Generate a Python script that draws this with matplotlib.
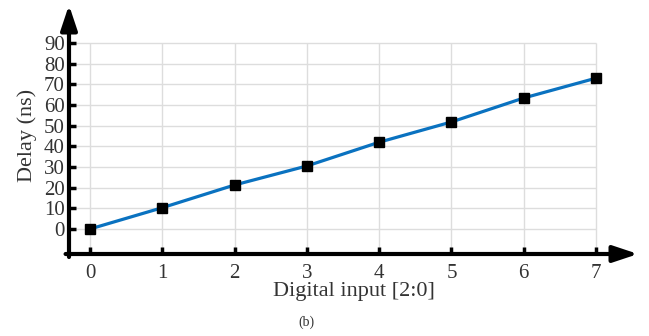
import matplotlib
matplotlib.use('Agg')
import matplotlib.pyplot as plt
import numpy as np

plt.rcParams.update({'font.family': 'Liberation Serif', 'font.size': 15})

codes = [0, 1, 2, 3, 4, 5, 6, 7]
delay = [0, 10.3, 21.3, 30.5, 42.0, 51.8, 63.4, 73.0]
yticks = [0, 10, 20, 30, 40, 50, 60, 70, 80, 90]

text_col = '#333333'
fig = plt.figure(figsize=(6.49, 3.36), dpi=100)
ax = fig.add_axes([69 / 649, 1 - 254 / 336, (638 - 69) / 649, (254 - 5) / 336])
ax.set_xlim(-0.29, 7.58)
ax.set_ylim(-12.1, 108.4)

# light grid, stops at the last tick
ax.hlines(yticks, -0.29, 7, color='#dddddd', lw=1, zorder=0)
ax.vlines(codes, -12.1, 90, color='#dddddd', lw=1, zorder=0)

ax.plot(codes, delay, color='#0a72c0', lw=2.3, marker='s', ms=6.5,
        mfc='black', mec='black', zorder=3)

for s in ax.spines.values():
    s.set_visible(False)

# axis arrows
arw = dict(arrowstyle='-|>,head_length=1.5,head_width=0.5', lw=3, color='black',
           mutation_scale=10, shrinkA=0, shrinkB=0)
ax.annotate('', xy=(1.0, 0), xytext=(-0.006, 0), xycoords='axes fraction',
            arrowprops=arw, annotation_clip=False)
ax.annotate('', xy=(0, 1.0), xytext=(0, -0.012), xycoords='axes fraction',
            arrowprops=arw, annotation_clip=False)

ax.set_xticks(codes)
ax.set_yticks(yticks)
ax.tick_params(direction='in', length=5, width=2.5, color='black',
               labelcolor=text_col, labelsize=15)
ax.tick_params(axis='x', pad=7)
ax.tick_params(axis='y', pad=3)

ax.text(0.5, -0.15, 'Digital input [2:0]', transform=ax.transAxes,
        ha='center', va='center', fontsize=16, color=text_col)
ax.text(-0.074, 45.5, 'Delay (ns)', transform=ax.get_yaxis_transform(),
        ha='center', va='center', rotation=90, fontsize=16, color=text_col)
fig.text(306 / 649, 1 - 322 / 336, '(b)', ha='center', va='center', fontsize=10,
         color=text_col)

fig.savefig('out.png', dpi=100)
